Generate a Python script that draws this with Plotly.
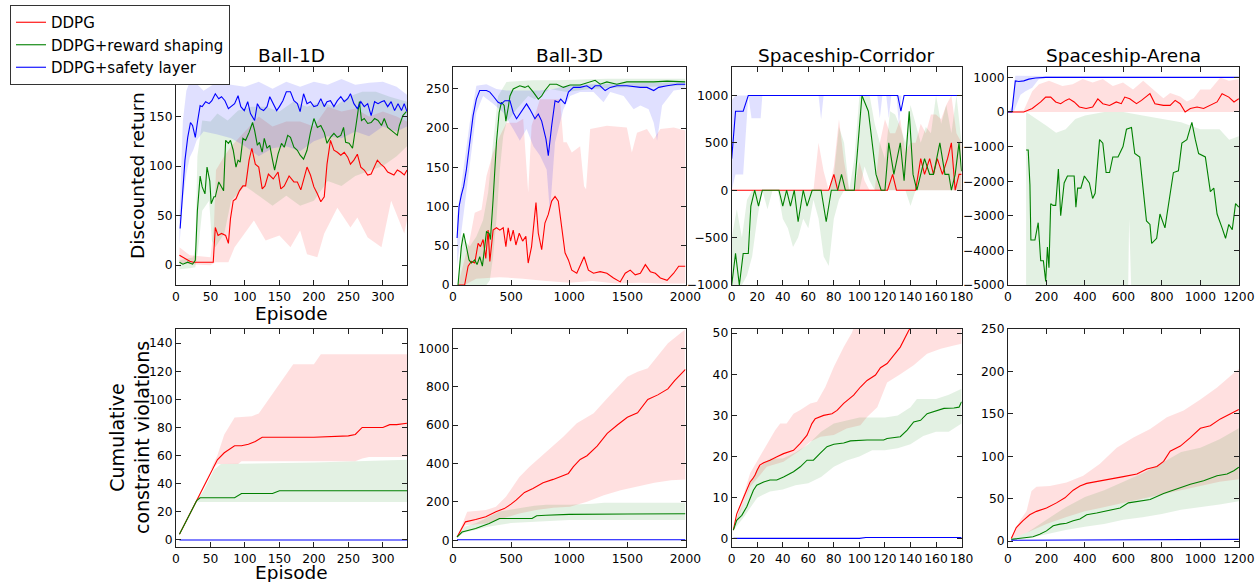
import plotly.graph_objects as go

W, H = 1256, 582
RED, GREEN, BLUE = "#ff0000", "#008000", "#0000ff"
FILLS = {RED: "rgba(255,0,0,0.12)", GREEN: "rgba(0,128,0,0.11)", BLUE: "rgba(0,0,255,0.12)"}
NAMES = {RED: "DDPG", GREEN: "DDPG+reward shaping", BLUE: "DDPG+safety layer"}

titles = ["Ball-1D", "Ball-3D", "Spaceship-Corridor", "Spaceship-Arena"]

# tick values / labels for the axes with negative values
corr_ytick_vals = [-1000, -500, 0, 500, 1000]
corr_ytick_text = ["\u22121000", "\u2212500", "0", "500", "1000"]
arena_ytick_vals = [-5000, -4000, -3000, -2000, -1000, 0, 1000]
arena_ytick_text = ["\u22125000", "\u22124000", "\u22123000", "\u22122000", "\u22121000", "0", "1000"]

# ---------------- Ball-1D : discounted return ----------------
b1r_x = [5,10,15,20,25,30,40,50,54,57,61,66,72,76,79,83,87,92,97,101,106,110,115,120,125,129,134,141,148,152,157,164,171,176,181,185,190,195,200,205,210,215,219,224,229,234,239,244,249,253,258,263,268,273,278,283,287,292,297,302,307,312,316,321,326,331,335]
b1r_y = [10,8,6,4,3,3,3,2.5,3,38,30,32,30,22,47,65,67,75,80,80,106,118,102,99,77,80,92,87,94,77,80,90,84,84,76,86,99,91,79,72,64,69,102,126,116,114,111,114,109,102,106,112,99,96,91,92,99,106,102,99,94,92,91,96,94,91,96]
b1r_hx = [5,20,50,55,58,70,80,100,120,140,160,180,200,220,240,260,280,300,320,335]
b1r_hy = [18,10,8,40,96,110,120,135,150,140,145,145,140,160,155,158,150,155,150,145]
b1r_lx = [5,20,50,57,76,85,99,113,130,150,166,180,190,205,215,234,253,263,278,298,312,331,335]
b1r_ly = [3,1,0,3,3,18,32,45,25,30,18,35,11,8,32,58,38,48,28,18,65,32,45]

b1g_x = [5,10,17,24,28,31,35,38,42,45,49,51,55,57,62,65,69,72,76,79,83,87,90,93,97,101,106,111,114,118,121,125,128,132,136,140,143,148,153,157,162,166,171,176,180,185,190,195,200,205,210,215,219,224,229,234,239,243,246,251,256,261,266,269,273,278,283,288,293,298,302,307,312,317,321,324,329,334]
b1g_y = [3,1,3,1,5,55,90,79,72,99,85,62,69,69,84,80,75,126,123,126,116,99,106,104,128,126,134,144,136,121,124,114,128,118,121,106,96,112,123,119,131,129,119,116,111,107,116,134,148,139,141,134,123,129,133,129,131,139,124,123,118,141,165,146,148,143,144,148,146,141,148,139,136,133,131,141,151,155]
b1g_hx = [5,25,28,31,38,50,60,75,90,110,130,150,170,190,210,230,250,270,290,310,335]
b1g_hy = [5,8,18,110,146,145,153,146,156,160,160,155,165,160,165,160,170,175,175,170,165]
b1g_lx = [5,20,28,32,38,48,52,57,70,80,100,120,140,160,180,200,220,240,260,280,300,320,335]
b1g_ly = [-4,-3,-2,15,55,65,25,18,32,65,80,70,60,70,60,65,85,80,90,95,100,110,120]

b1b_x = [6,9,13,17,21,24,28,31,35,38,43,48,52,57,62,66,71,76,80,85,90,94,99,104,108,114,118,122,127,132,136,141,146,150,155,160,166,171,176,180,185,190,195,200,205,210,215,219,224,229,234,239,244,249,253,258,263,268,273,278,283,288,293,298,302,307,312,317,322,327,331,335]
b1b_y = [37,72,106,129,144,141,129,144,161,160,165,163,166,173,168,170,166,158,160,163,171,160,156,165,153,146,163,158,156,160,170,163,156,160,166,175,175,166,163,155,173,163,165,160,161,168,160,165,166,160,166,170,165,168,173,163,158,165,160,163,151,165,163,165,166,160,165,156,163,156,163,155]
b1b_hx = [5,10,15,20,30,40,60,80,100,120,140,160,180,200,220,240,260,280,300,320,335]
b1b_hy = [50,146,176,185,183,176,185,182,180,185,178,185,180,185,182,188,182,184,185,180,172]
b1b_lx = [5,10,15,20,25,30,40,60,80,100,120,140,160,180,200,220,240,260,280,300,320,335]
b1b_ly = [20,65,92,109,116,126,135,132,128,120,110,118,120,115,125,130,128,135,130,140,135,140]

# ---------------- Ball-3D : discounted return ----------------
b3r_x = [43,100,130,158,187,216,236,259,282,302,317,345,374,403,432,455,475,495,518,541,570,599,627,647,676,714,734,763,791,820,849,878,906,935,964,993,1022,1065,1094,1128,1165,1209,1266,1324,1381,1439,1482,1525,1568,1612,1655,1698,1741,1784,1842,1899,1942,2000]
b3r_y = [0,0,24,30,28,53,49,58,34,70,30,70,73,70,73,49,73,56,70,51,66,56,62,28,49,105,66,45,79,90,107,113,107,75,41,32,19,15,24,36,19,15,17,15,9,4,15,19,13,15,26,17,15,9,6,15,24,24]
b3r_hx = [43,144,187,245,288,345,403,460,547,604,647,676,748,863,921,950,978,1022,1094,1128,1145,1180,1324,1496,1539,1583,1669,1727,1784,1899,2000]
b3r_hy = [0,58,92,96,139,169,190,207,207,212,118,203,237,237,237,182,182,169,177,126,122,199,203,201,169,194,199,186,199,201,197]
b3r_lx = [43,100,200,400,600,800,1000,1200,1400,1600,1800,2000]
b3r_ly = [0,0,8,10,8,5,3,5,2,3,2,2]

b3g_x = [43,72,92,115,138,158,187,207,230,253,273,288,311,322,345,374,397,417,440,455,475,490,518,575,619,647,691,734,763,791,834,892,950,1007,1094,1151,1223,1266,1324,1410,1496,1612,1727,1842,1928,2000]
b3g_y = [0,49,66,51,32,28,32,26,36,24,51,68,66,58,109,182,220,233,229,209,226,241,250,254,252,254,246,237,241,248,256,256,252,255,255,258,261,256,259,256,259,259,259,260,259,259]
b3g_hx = [43,72,144,201,259,302,345,388,460,691,892,1324,2000]
b3g_hy = [0,62,49,62,83,118,182,241,259,261,261,263,263]
b3g_lx = [43,173,288,317,345,374,403,432,460,547,647,705,748,834,978,1180,1468,2000]
b3g_ly = [0,0,0,6,36,83,147,190,207,224,241,237,241,250,246,250,252,254]

b3b_x = [35,52,72,92,115,144,173,201,230,288,317,345,388,417,446,490,518,547,575,604,633,662,705,734,763,800,820,849,878,906,927,964,993,1036,1094,1151,1194,1223,1266,1309,1353,1410,1496,1612,1669,1727,1770,1842,1928,2000]
b3b_y = [60,100,115,126,147,182,216,237,248,248,246,241,233,231,235,235,220,212,218,224,231,224,212,218,209,186,165,203,235,233,237,231,246,252,252,254,250,254,254,248,252,254,254,252,252,248,252,254,256,256]
b3b_hx = [35,86,144,201,288,374,460,633,748,863,978,1180,1612,2000]
b3b_hy = [88,147,207,254,256,250,248,248,248,250,254,256,258,259]
b3b_lx = [35,86,144,201,259,345,432,518,575,633,691,748,806,834,878,950,1007,1094,1209,1295,1353,1468,1554,1612,1683,1727,1756,1799,1899,2000]
b3b_ly = [24,88,152,220,241,231,220,199,184,199,177,165,147,92,182,224,241,246,246,233,246,241,224,229,224,207,184,229,248,250]

# ---------------- Spaceship-Corridor : discounted return ----------------
scr_x = [0,76,80,83,122,126,129,144,148,151,155,158,161,165,169,172,175,178,180]
scr_y = [0,0,167,0,0,167,0,0,333,167,333,167,333,167,333,500,0,167,167]
scr_hx = [0,64,68,72,76,80,84,88,92,96,100,104,108,112,116,120,124,128,132,136,140,144,148,152,156,160,164,168,172,176,180]
scr_hy = [0,0,500,200,0,250,750,300,0,0,300,100,0,0,500,750,600,600,750,400,500,500,700,600,800,800,750,900,1000,600,500]
scr_lx = [0,180]
scr_ly = [0,0]

scg_x = [0,3,6,9,13,15,18,21,24,37,40,43,46,49,52,56,59,63,70,74,78,83,86,89,96,102,107,110,113,117,120,123,127,132,135,139,142,145,148,151,155,158,163,167,170,172,175,178,180]
scg_y = [-1000,-667,-1000,-667,-667,-167,0,-167,0,0,-167,0,-167,0,-333,0,-167,0,0,-333,0,0,167,0,0,1000,833,500,167,0,0,500,167,500,100,833,167,0,167,333,167,167,500,167,167,0,167,500,200]
scg_hx = [0,4,8,12,16,20,40,76,80,84,88,92,96,100,104,108,112,116,120,124,128,132,136,140,144,148,152,156,160,164,168,172,176,180]
scg_hy = [-500,-200,-500,-100,0,0,0,0,167,667,500,0,333,1000,1000,1000,700,500,333,833,800,667,500,900,700,500,667,600,1000,700,900,600,1000,500]
scg_lx = [0,4,8,12,16,20,24,28,32,36,40,44,48,52,56,60,64,68,72,76,80,84,88,100,104,108,112,136,140,144,180]
scg_ly = [-1000,-1000,-1000,-900,-700,-300,0,-200,0,0,-300,-400,-600,-500,-300,-400,-100,-300,-700,-800,-300,-100,0,0,250,100,0,0,-167,0,0]

scb_x = [0,3,9,13,130,132.5,135,180]
scb_y = [333,833,833,1000,1000,833,1000,1000]
scb_hx = [0,3,180]
scb_hy = [950,1000,1000]
scb_lx = [0,3,9,13,15.5,22.7,24,68,70,72,114,116,118,121,123,125,129,131,133,180]
scb_ly = [0,165,165,1000,760,760,1000,1000,745,1000,1000,760,1000,1000,760,1000,1000,675,1000,1000]

# ---------------- Spaceship-Arena : discounted return ----------------
sar_x = [0,40,82,126,170,196,222,248,274,300,318,344,371,406,440,467,493,528,563,589,607,633,668,694,738,764,808,843,869,895,921,948,983,1017,1052,1087,1113,1148,1175,1200]
sar_y = [0,0,0,100,290,430,430,290,240,335,380,290,145,100,145,380,240,190,290,240,430,380,240,335,530,240,190,190,335,240,0,100,145,100,190,290,530,430,290,380]
sar_hx = [0,82,126,161,213,283,336,388,440,493,545,598,650,703,755,808,843,895,930,965,1000,1052,1104,1148,1200]
sar_hy = [0,50,600,800,900,750,800,950,850,950,750,850,650,900,650,400,550,450,300,400,650,650,1000,900,950]
sar_lx = [0,1200]
sar_ly = [0,0]

sag_x = [94,105,114,119,140,152,157,163,170,184,196,205,213,222,234,248,262,274,292,309,327,344,353,362,379,397,423,440,453,476,493,510,528,545,572,598,616,642,659,685,703,720,738,747,773,790,816,843,860,886,904,930,956,974,991,1026,1052,1070,1087,1113,1131,1148,1166,1183,1200]
sag_y = [-1100,-1100,-2100,-3700,-3700,-3400,-3200,-3700,-4300,-4300,-4900,-3900,-4500,-2650,-2700,-2700,-1650,-3000,-2050,-1850,-1850,-1850,-2750,-2200,-2200,-1850,-2050,-2500,-2350,-800,-900,-1750,-1750,-1300,-1300,-1000,-500,-450,-1200,-1300,-2250,-3150,-3250,-3800,-3650,-2950,-3350,-2300,-1750,-1700,-900,-800,-300,-800,-1200,-1300,-2300,-2200,-2950,-3350,-3650,-3250,-3400,-2650,-2750]
sag_hx = [94,150,200,250,300,350,400,500,600,700,800,900,1000,1100,1150,1200]
sag_hy = [0,-200,-400,-600,-500,-200,-100,0,0,-100,-200,-300,-500,-500,-800,-700]
sag_lx = [94,625,630,640,1200]
sag_ly = [-5000,-5000,-3100,-5000,-5000]

sab_x = [0,20,38,56,82,108,143,196,1200]
sab_y = [0,0,900,880,900,950,980,1000,1000]
sab_hx = [0,20,38,1200]
sab_hy = [0,150,1050,1000]
sab_lx = [0,30,65,91,126,161,213,1200]
sab_ly = [0,0,500,600,700,950,1000,1000]

# ---------------- Ball-1D : cumulative violations ----------------
c1r_x = [5,30,40,50,60,70,85,95,105,115,125,140,200,250,260,270,300,310,320,335]
c1r_y = [4,28,38,48,57,62,67,67,68,70,73,73,73,74,75,80,80,82,82,83]
c1r_hx = [5,30,50,60,70,85,110,120,170,200,210,335]
c1r_hy = [4,28,50,60,75,87,88,90,125,125,132,132]
c1r_lx = [5,30,50,60,90,95,200,260,270,280,335]
c1r_ly = [4,27,50,54,54,56,56,56,58,59,59]

c1g_x = [5,30,35,85,95,140,150,200,335]
c1g_y = [4,28,30,30,33,33,35,35,35]
c1g_hx = [5,30,40,55,65,200,335]
c1g_hy = [4,28,35,50,54,55,57]
c1g_lx = [5,30,335]
c1g_ly = [4,27,27]

c1b_x = [5,335]
c1b_y = [0,0]

# ---------------- Ball-3D : cumulative violations ----------------
c3r_x = [35,107,195,282,369,441,499,543,615,688,775,862,993,1036,1094,1153,1240,1327,1414,1500,1588,1676,1762,1849,1907,2000]
c3r_y = [17,96,108,122,148,165,188,209,249,270,300,317,348,383,421,440,490,557,600,640,664,733,757,788,831,890]
c3r_hx = [35,122,282,369,455,571,658,804,949,1065,1210,1327,1500,1588,1676,1849,1994]
c3r_hy = [17,148,157,174,226,330,383,461,539,609,661,739,852,878,896,1026,1096]
c3r_lx = [35,107,282,427,571,717,862,1007,1153,1298,1443,1588,1733,1878,2000]
c3r_ly = [17,78,87,113,139,157,170,174,200,235,261,282,300,313,317]

c3g_x = [35,78,195,311,383,400,680,720,800,1000,1500,2000]
c3g_y = [17,43,61,87,108,113,113,128,130,135,137,138]
c3g_hx = [35,100,200,300,400,500,600,700,800,1000,1200,1300,2000]
c3g_hy = [17,70,90,120,150,160,170,180,185,185,190,195,195]
c3g_lx = [35,100,200,300,400,500,1000,1500,2000]
c3g_ly = [17,40,55,70,80,90,105,105,105]

c3b_x = [35,2000]
c3b_y = [3,3]

# ---------------- Spaceship-Corridor : cumulative violations ----------------
ccr_x = [1.3,3.9,7.9,11,14.4,16.5,18.3,20,22,25,30,35,40.6,48.4,53.7,59,62.8,65.4,72,78.5,82.5,87.7,95.5,100.8,106,112.6,116.5,121.7,127,132,138.7,145,150]
ccr_y = [2.1,6,9,11.4,13.8,14.6,15.5,16.7,17.9,18.5,19.1,19.9,20.7,21.5,23.2,25.2,28,29.2,30,30.4,31.2,32.9,34.9,36.9,38.5,39.8,41.6,42.6,44.6,46.6,50.7,53,55]
ccr_hx = [1.3,6.5,14.4,22,27.5,34,38,43,48.4,53.7,61.5,66.8,73.3,80,87.7,94,100,140,180]
ccr_hy = [2,7.8,15.9,20,22.8,26.4,28,28,30.4,31.3,32.9,33.3,36.9,41.8,46.6,50,55,62,68]
ccr_lx = [1.3,14.4,27.5,40.6,53.7,61.5,69.5,80,90,100.8,106,114,121.7,132,142.5,153,163.7,174,180]
ccr_ly = [2,12.6,17.5,18.7,21.5,23.6,24.8,25.2,26.8,27.6,29.6,32,38,40,42.2,45,46.2,47,47.4]

ccg_x = [1.3,3.9,7.9,11.8,17,19.6,25,30,35.3,40.6,48.4,53.7,59,64,69,74.6,80,87.7,93,100.8,106,119,121.7,132,137.4,142.5,147.9,153,158.4,166.2,174,178,180]
ccg_y = [2.1,4.5,5.7,7.8,11.8,13,13.8,14.3,14.3,15,16.3,17.5,19.1,19.1,20.7,22.4,23,23.3,23.8,24,24,24,24.4,24.8,26.4,28.4,28.8,30.4,30.9,31.7,31.8,32,33.3]
ccg_hx = [1.3,5,10,15,20,30,40,50,60,70,80,100,120,130,140,145,160,170,180]
ccg_hy = [2.1,6,9,14,17,19.5,19.5,21,23,26,28,29.5,29.5,30,32,34,34,35,36.5]
ccg_lx = [1.3,10,20,30,40,50,60,70,80,90,100,110,120,130,140,150,160,170,180]
ccg_ly = [2,5.5,10,11.5,12,13,13.5,15,17.5,19,20,21.5,21.5,22,23,25,26,26,28]

ccb_x = [1.3,100,105,180]
ccb_y = [0.1,0.1,0.3,0.3]

# ---------------- Spaceship-Arena : cumulative violations ----------------
car_x = [17,43,78,113,148,200,252,296,339,374,409,461,530,600,670,722,774,809,843,896,948,1000,1052,1104,1157,1200]
car_y = [3,16,24,31,35,39,45,51,60,65,68,70,73,76,79,85,88,94,106,112,122,133,136,144,150,155]
car_hx = [17,61,96,122,148,217,304,391,478,565,652,739,826,913,1000,1087,1200]
car_hy = [4,24,35,59,64,65,69,77,91,110,122,132,146,154,167,181,203]
car_lx = [17,100,200,300,400,500,600,700,800,900,1000,1100,1200]
car_ly = [3,10,20,28,35,40,45,50,55,60,65,70,73]

cag_x = [17,78,130,165,200,235,270,304,339,374,409,461,530,583,626,687,739,809,878,948,1017,1087,1139,1174,1200]
cag_y = [2,4,5,8,12,18,20,21,24,26,31,33,36,39,45,47,49,56,61,67,71,77,79,83,87]
cag_hx = [17,100,200,300,400,500,600,700,800,900,1000,1100,1200]
cag_hy = [3,10,25,40,52,60,70,80,92,105,110,120,133]
cag_lx = [17,100,200,300,400,500,600,700,800,900,1000,1100,1200]
cag_ly = [2,3,8,13,17,20,25,28,32,37,40,43,47]

cab_x = [17,1200]
cab_y = [1,2]

# ---------------- panels ----------------
panels = [
    (0, 0, [0, 335], [-20, 200], 50, 50, None,
     [(RED, b1r_x, b1r_y, b1r_hx, b1r_hy, b1r_lx, b1r_ly),
      (GREEN, b1g_x, b1g_y, b1g_hx, b1g_hy, b1g_lx, b1g_ly),
      (BLUE, b1b_x, b1b_y, b1b_hx, b1b_hy, b1b_lx, b1b_ly)]),
    (0, 1, [0, 2000.5], [0, 278], 500, 50, None,
     [(RED, b3r_x, b3r_y, b3r_hx, b3r_hy, b3r_lx, b3r_ly),
      (GREEN, b3g_x, b3g_y, b3g_hx, b3g_hy, b3g_lx, b3g_ly),
      (BLUE, b3b_x, b3b_y, b3b_hx, b3b_hy, b3b_lx, b3b_ly)]),
    (0, 2, [0, 180.1], [-1000, 1300], 20, 500, (corr_ytick_vals, corr_ytick_text),
     [(RED, scr_x, scr_y, scr_hx, scr_hy, scr_lx, scr_ly),
      (GREEN, scg_x, scg_y, scg_hx, scg_hy, scg_lx, scg_ly),
      (BLUE, scb_x, scb_y, scb_hx, scb_hy, scb_lx, scb_ly)]),
    (0, 3, [0, 1201], [-5000, 1300], 200, 1000, (arena_ytick_vals, arena_ytick_text),
     [(RED, sar_x, sar_y, sar_hx, sar_hy, sar_lx, sar_ly),
      (GREEN, sag_x, sag_y, sag_hx, sag_hy, sag_lx, sag_ly),
      (BLUE, sab_x, sab_y, sab_hx, sab_hy, sab_lx, sab_ly)]),
    (1, 0, [0, 335], [-5, 150], 50, 20, None,
     [(RED, c1r_x, c1r_y, c1r_hx, c1r_hy, c1r_lx, c1r_ly),
      (GREEN, c1g_x, c1g_y, c1g_hx, c1g_hy, c1g_lx, c1g_ly),
      (BLUE, c1b_x, c1b_y, None, None, None, None)]),
    (1, 1, [0, 2000.5], [-35, 1100], 500, 200, None,
     [(RED, c3r_x, c3r_y, c3r_hx, c3r_hy, c3r_lx, c3r_ly),
      (GREEN, c3g_x, c3g_y, c3g_hx, c3g_hy, c3g_lx, c3g_ly),
      (BLUE, c3b_x, c3b_y, None, None, None, None)]),
    (1, 2, [0, 180.1], [-2, 51], 20, 10, None,
     [(RED, ccr_x, ccr_y, ccr_hx, ccr_hy, ccr_lx, ccr_ly),
      (GREEN, ccg_x, ccg_y, ccg_hx, ccg_hy, ccg_lx, ccg_ly),
      (BLUE, ccb_x, ccb_y, None, None, None, None)]),
    (1, 3, [0, 1201], [-7, 250], 200, 50, None,
     [(RED, car_x, car_y, car_hx, car_hy, car_lx, car_ly),
      (GREEN, cag_x, cag_y, cag_hx, cag_hy, cag_lx, cag_ly),
      (BLUE, cab_x, cab_y, None, None, None, None)]),
]

col_px = [(176, 407), (453, 685.5), (731.7, 961.7), (1008, 1239)]
row_px = [(67, 285), (329, 547)]

FONT = "DejaVu Sans"
fig = go.Figure()
layout = {}

for k, (r, c, xr, yr, dx, dy, yt, series) in enumerate(panels):
    n = k + 1
    xa = "x" if n == 1 else f"x{n}"
    ya = "y" if n == 1 else f"y{n}"
    for color, mx, my, hx, hy, lx, ly in series:
        if hx is not None:
            fig.add_trace(go.Scatter(
                x=list(hx) + list(lx)[::-1], y=list(hy) + list(ly)[::-1],
                fill="toself", fillcolor=FILLS[color], line=dict(width=0),
                mode="lines", hoverinfo="skip", showlegend=False,
                xaxis=xa, yaxis=ya))
    for color, mx, my, hx, hy, lx, ly in series:
        fig.add_trace(go.Scatter(
            x=mx, y=my, mode="lines", line=dict(color=color, width=1.1),
            name=NAMES[color], showlegend=(n == 1), xaxis=xa, yaxis=ya))
    x0, x1 = col_px[c]
    y0, y1 = row_px[r]
    common = dict(showgrid=False, zeroline=False, showline=True, linecolor="#222",
                  linewidth=1, mirror="ticks", ticks="inside", ticklen=5,
                  tickcolor="#222", automargin=False, tickangle=0,
                  ticklabeloverflow="allow",
                  tickfont=dict(family=FONT, size=12.3, color="black"))
    layout["xaxis" if n == 1 else f"xaxis{n}"] = dict(
        domain=[x0 / W, x1 / W], range=xr, dtick=dx, tick0=0,
        anchor=ya, **common)
    yax = dict(domain=[1 - y1 / H, 1 - y0 / H], range=yr, anchor=xa, **common)
    if yt is None:
        yax.update(dtick=dy, tick0=0)
    else:
        yax.update(tickmode="array", tickvals=yt[0], ticktext=yt[1])
    layout["yaxis" if n == 1 else f"yaxis{n}"] = yax

ann = []
for c, t in enumerate(titles):
    x0, x1 = col_px[c]
    ann.append(dict(text=t, x=(x0 + x1) / 2 / W, y=1 - 55 / H, xref="paper", yref="paper",
                    showarrow=False, xanchor="center", yanchor="middle",
                    font=dict(family=FONT, size=18.5, color="black")))
ann.append(dict(text="Discounted return", x=137 / W, y=1 - 176 / H, xref="paper", yref="paper",
                showarrow=False, textangle=-90, xanchor="center", yanchor="middle",
                font=dict(family=FONT, size=18.5, color="black")))
ann.append(dict(text="Episode", x=(176 + 407) / 2 / W, y=1 - 313 / H, xref="paper", yref="paper",
                showarrow=False, xanchor="center", yanchor="middle",
                font=dict(family=FONT, size=18.5, color="black")))
ann.append(dict(text="Cumulative<br>constraint violations", x=129 / W, y=1 - 438 / H,
                xref="paper", yref="paper", showarrow=False, textangle=-90,
                xanchor="center", yanchor="middle",
                font=dict(family=FONT, size=19, color="black")))
ann.append(dict(text="Episode", x=(176 + 407) / 2 / W, y=1 - 572 / H, xref="paper", yref="paper",
                showarrow=False, xanchor="center", yanchor="middle",
                font=dict(family=FONT, size=18.5, color="black")))

fig.update_layout(
    width=W, height=H, margin=dict(l=0, r=0, t=0, b=0, autoexpand=False),
    paper_bgcolor="white", plot_bgcolor="white",
    font=dict(family=FONT, size=14, color="black"),
    annotations=ann,
    legend=dict(x=10 / W, y=1 - 5 / H, xanchor="left", yanchor="top",
                bordercolor="#333", borderwidth=1, bgcolor="white",
                font=dict(family=FONT, size=15, color="black"),
                tracegroupgap=0, itemwidth=30),
    showlegend=True,
    **layout,
)

fig.write_html(
    "out.html",
    config={"displayModeBar": False},
    post_script="document.body.style.margin='0';document.body.style.padding='0';"
                "document.body.style.overflow='hidden';",
)
